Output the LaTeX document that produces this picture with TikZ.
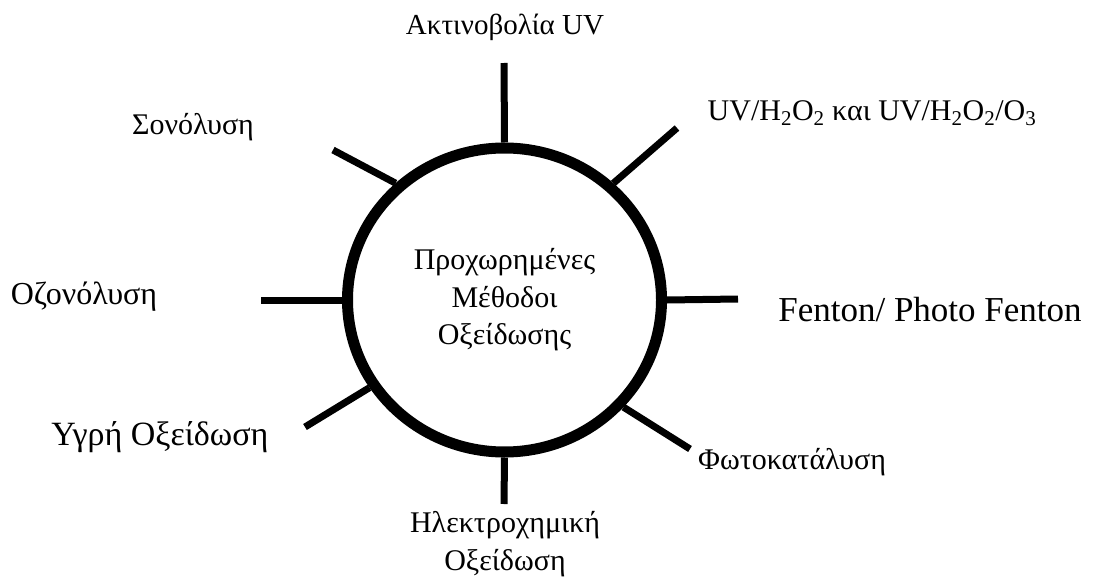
\documentclass[tikz,border=0pt]{standalone}
\usepackage{fontspec}
\setmainfont{Liberation Serif}
\usetikzlibrary{shapes.geometric}

\begin{document}
\begin{tikzpicture}[x=1pt, y=-1pt, font=\fontsize{30}{37.5}\selectfont,
  spoke/.style={line width=7pt},
  lbl/.style={align=center, inner sep=0pt}]
  \useasboundingbox (0,0) rectangle (1098,583);
  % centre ring
  \node[ellipse, draw, line width=11pt, minimum width=314pt, minimum height=304pt, align=center] (core) at (504.5,300) {Προχωρημένες\\Μέθοδοι\\Οξείδωσης};
  % free ends of the spokes
  \coordinate (uvEnd) at (504,63);
  \coordinate (peroxEnd) at (677,128);
  \coordinate (fentonEnd) at (738,299);
  \coordinate (photoEnd) at (690,449);
  \coordinate (electroEnd) at (504,504);
  \coordinate (wetEnd) at (305,427);
  \coordinate (ozoneEnd) at (261,300);
  \coordinate (sonoEnd) at (333,150);
  \draw[spoke] (core.90) -- (uvEnd);
  \draw[spoke] (core.47) -- (peroxEnd);
  \draw[spoke] (core.0) -- (fentonEnd);
  \draw[spoke] (core.-42) -- (photoEnd);
  \draw[spoke] (core.-90) -- (electroEnd);
  \draw[spoke] (core.213) -- (wetEnd);
  \draw[spoke] (core.180) -- (ozoneEnd);
  \draw[spoke] (core.133) -- (sonoEnd);
  % labels
  \node[lbl, font=\fontsize{29}{36}\selectfont] (uv) at (505,27) {Ακτινοβολία UV};
  \node[lbl] (perox) at (872,113) {UV/H\textsubscript{2}O\textsubscript{2} και UV/H\textsubscript{2}O\textsubscript{2}/O\textsubscript{3}};
  \node[lbl, font=\fontsize{35}{40}\selectfont] (fenton) at (930,310) {Fenton/ Photo Fenton};
  \node[lbl] (photo) at (792,462) {Φωτοκατάλυση};
  \node[lbl] (electro) at (505,544) {Ηλεκτροχημική\\Οξείδωση};
  \node[lbl, font=\fontsize{34}{40}\selectfont] (wet) at (160,437) {Υγρή Οξείδωση};
  \node[lbl, font=\fontsize{32}{40}\selectfont] (ozone) at (84,297) {Οζονόλυση};
  \node[lbl] (sono) at (193,127) {Σονόλυση};
\end{tikzpicture}
\end{document}
